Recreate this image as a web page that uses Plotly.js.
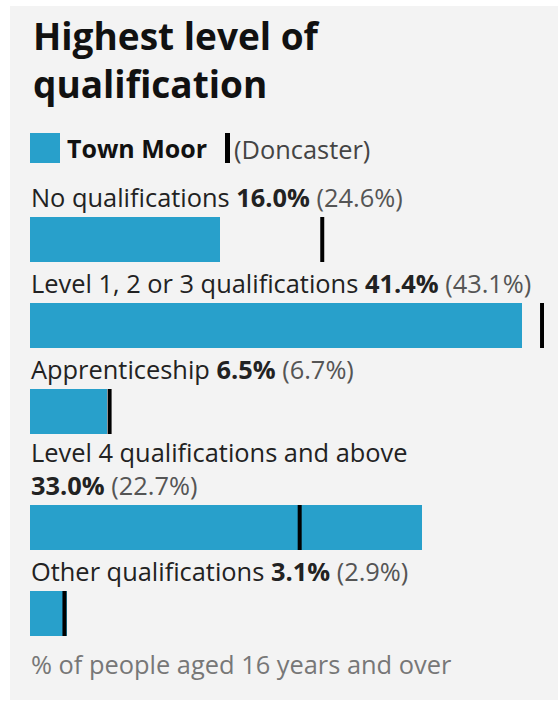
<!DOCTYPE html>
<html>
<head>
<meta charset="utf-8">
<script src="https://cdn.plot.ly/plotly-3.0.1.min.js"></script>
<style>html,body{margin:0;padding:0;background:#fff;}#chart{width:558px;height:701px;}</style>
</head>
<body>
<div id="chart"></div>
<script>
// ---- data ----
const categories = ["No qualifications", "Level 1, 2 or 3 qualifications", "Apprenticeship", "Level 4 qualifications and above", "Other qualifications"];
const townMoor = [16.0, 41.4, 6.5, 33.0, 3.1];
const doncaster = [24.6, 43.1, 6.7, 22.7, 2.9];
const areaName = "Town Moor";
const compareName = "Doncaster";
const titleLines = ["Highest level of", "qualification"];
const footnote = "% of people aged 16 years and over";

// ---- layout constants (pixels) ----
const W = 558, H = 701;
const BAR_COLOR = "#28a0cb";
const FONT = "Open Sans, sans-serif";
const FS = 25.4;
const PX_PER_PCT = 11.88;
const X0 = 30;
const FIRST_TOP = 217, STEP = 86, WRAP_EXTRA = 30, BAR_H = 45;

const px = v => v / W;
const py = v => 1 - v / H;

const tops = [], centers = [], wraps = [];
let extra = 0;
categories.forEach((c, i) => {
  const full = c + " " + townMoor[i].toFixed(1) + "% (" + doncaster[i].toFixed(1) + "%)";
  const wrap = full.length > 45;
  wraps.push(wrap);
  if (wrap) extra += WRAP_EXTRA;
  const t = FIRST_TOP + STEP * i + extra;
  tops.push(t);
  centers.push(t + BAR_H / 2);
});

const barTrace = {
  type: "bar", orientation: "h",
  x: townMoor, y: centers, width: BAR_H,
  marker: {color: BAR_COLOR, line: {width: 0}},
  hoverinfo: "none", showlegend: false
};

const mx = [], my = [];
doncaster.forEach((d, i) => { mx.push(d, d, null); my.push(tops[i], tops[i] + BAR_H, null); });
const markTrace = {
  type: "scatter", mode: "lines", x: mx, y: my,
  line: {color: "#000", width: 4}, hoverinfo: "none", showlegend: false
};

const annotations = categories.map((c, i) => ({
  xref: "paper", yref: "y", x: px(29), y: tops[i] - 1.5,
  xanchor: "left", yanchor: "bottom", align: "left", showarrow: false,
  font: {family: FONT, size: FS, color: "#222"},
  text: c + (wraps[i] ? "<br>" : " ") + "<b>" + townMoor[i].toFixed(1) + "%</b> " +
        "<span style='color:#555'>(" + doncaster[i].toFixed(1) + "%)</span>"
}));
annotations.push({
  xref: "paper", yref: "y", x: px(29), y: 664, xanchor: "left", yanchor: "middle",
  showarrow: false, font: {family: FONT, size: FS, color: "#777"}, text: footnote
});
annotations.push({
  xref: "paper", yref: "y", x: px(65), y: 148, xanchor: "left", yanchor: "middle",
  showarrow: false, font: {family: FONT, size: 25, color: "#111"}, text: "<b>" + areaName + "</b>"
});
annotations.push({
  xref: "paper", yref: "y", x: px(232), y: 149, xanchor: "left", yanchor: "middle",
  showarrow: false, font: {family: FONT, size: FS, color: "#444"}, text: "(" + compareName + ")"
});
annotations.push({
  xref: "paper", yref: "y", x: px(31), y: 111, xanchor: "left", yanchor: "bottom", align: "left",
  showarrow: false, font: {family: FONT, size: 37, color: "#111"},
  text: titleLines.map(t => "<b>" + t + "</b>").join("<br>")
});

const shapes = [
  {type: "rect", xref: "paper", yref: "paper", x0: px(10), x1: 1, y0: py(700), y1: py(6),
   fillcolor: "#f3f3f3", line: {width: 0}, layer: "below"},
  {type: "rect", xref: "paper", yref: "paper", x0: px(30), x1: px(60), y0: py(163), y1: py(133),
   fillcolor: BAR_COLOR, line: {width: 0}},
  {type: "rect", xref: "paper", yref: "paper", x0: px(225), x1: px(230), y0: py(163), y1: py(133),
   fillcolor: "#000", line: {width: 0}}
];

const layout = {
  width: W, height: H,
  margin: {l: 0, r: 0, t: 0, b: 0, pad: 0},
  paper_bgcolor: "#fff", plot_bgcolor: "rgba(0,0,0,0)",
  xaxis: {domain: [X0 / W, 1], range: [0, (W - X0) / PX_PER_PCT], visible: false, fixedrange: true},
  yaxis: {domain: [0, 1], range: [H, 0], visible: false, fixedrange: true},
  bargap: 0,
  showlegend: false,
  annotations: annotations,
  shapes: shapes
};

Plotly.newPlot("chart", [barTrace, markTrace], layout, {displayModeBar: false, staticPlot: true});
</script>
</body>
</html>
